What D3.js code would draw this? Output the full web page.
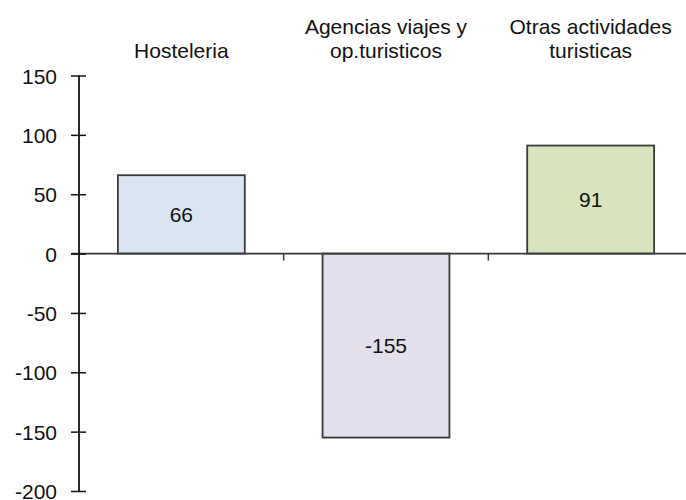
<!DOCTYPE html>
<html>
<head>
<meta charset="utf-8">
<script src="https://cdn.jsdelivr.net/npm/d3@7/dist/d3.min.js"></script>
<style>
  html, body { margin: 0; padding: 0; background: #fff; }
  svg { display: block; }
  text { font-family: "Liberation Sans", Arial, sans-serif; fill: #111; }
</style>
</head>
<body>
<svg id="chart" width="686" height="500"></svg>
<script>
const categories = ["Hosteleria", "Agencias viajes y op.turisticos", "Otras actividades turisticas"];
const categoryLines = [["Hosteleria"], ["Agencias viajes y", "op.turisticos"], ["Otras actividades", "turisticas"]];
const values = [66, -155, 91];
const yTicks = [150, 100, 50, 0, -50, -100, -150, -200];
const colors = ["#DBE5F1", "#E4DFEC", "#D7E4BC"];

const svg = d3.select("#chart");
const fontSize = 21;

const x = d3.scaleBand().domain(categories).range([79, 693]).paddingInner(0.38).paddingOuter(0.19);
const y = d3.scaleLinear().domain([-200, 150]).range([491, 75.5]);

// bars
svg.selectAll("rect.bar").data(values).enter().append("rect")
  .attr("class", "bar")
  .attr("x", (d, i) => x(categories[i]))
  .attr("width", x.bandwidth())
  .attr("y", d => y(Math.max(0, d)))
  .attr("height", d => Math.abs(y(d) - y(0)))
  .attr("fill", (d, i) => colors[i])
  .attr("stroke", "#3a3a3a")
  .attr("stroke-width", 1.8);

// zero line (category axis)
svg.append("line")
  .attr("x1", 71).attr("x2", 686)
  .attr("y1", y(0)).attr("y2", y(0))
  .attr("stroke", "#3a3a3a").attr("stroke-width", 1.8);

// category ticks between bands
categories.slice(1).forEach(c => {
  const xv = x(c) - x.step() * x.paddingInner() / 2;
  svg.append("line")
    .attr("x1", xv).attr("x2", xv)
    .attr("y1", y(0)).attr("y2", y(0) + 7)
    .attr("stroke", "#3a3a3a").attr("stroke-width", 1.5);
});

// y axis
const yAxis = d3.axisLeft(y).tickValues(yTicks).tickSize(0).tickPadding(0).tickFormat(d => String(d));
const gy = svg.append("g").attr("transform", "translate(79,0)").call(yAxis);
gy.select(".domain").remove();
gy.selectAll(".tick text")
  .attr("x", -22)
  .attr("dy", "0.36em")
  .style("font-size", fontSize + "px")
  .style("font-family", '"Liberation Sans", Arial, sans-serif')
  .attr("fill", "#111");
gy.selectAll(".tick").append("line")
  .attr("x1", -8).attr("x2", 7)
  .attr("stroke", "#111").attr("stroke-width", 1.5);
gy.append("line")
  .attr("x1", 0).attr("x2", 0)
  .attr("y1", y(150)).attr("y2", y(-200))
  .attr("stroke", "#111").attr("stroke-width", 1.8);

// category labels at top
categoryLines.forEach((lines, i) => {
  const cx = x(categories[i]) + x.bandwidth() / 2;
  const n = lines.length;
  lines.forEach((t, j) => {
    svg.append("text")
      .attr("x", cx)
      .attr("y", 58 - (n - 1 - j) * 24)
      .attr("text-anchor", "middle")
      .style("font-size", fontSize + "px")
      .text(t);
  });
});

// value labels
svg.selectAll("text.val").data(values).enter().append("text")
  .attr("class", "val")
  .attr("x", (d, i) => x(categories[i]) + x.bandwidth() / 2)
  .attr("y", d => (y(d) + y(0)) / 2)
  .attr("dy", "0.36em")
  .attr("text-anchor", "middle")
  .style("font-size", fontSize + "px")
  .text(d => String(d));
</script>
</body>
</html>
